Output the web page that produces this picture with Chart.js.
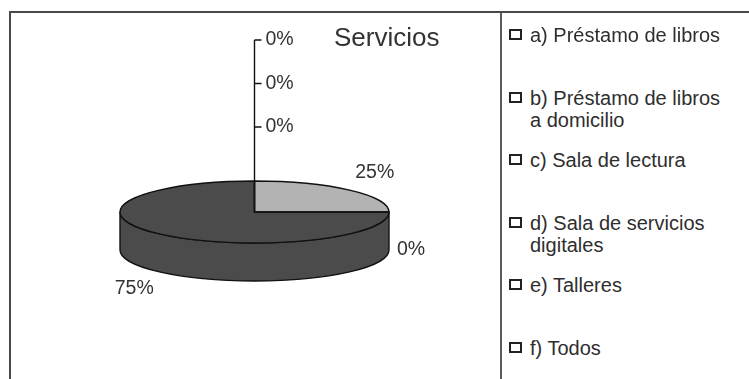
<!DOCTYPE html>
<html>
<head>
<meta charset="utf-8">
<script src="https://cdn.jsdelivr.net/npm/chart.js@4.4.1/dist/chart.umd.min.js"></script>
<style>
  html, body { margin: 0; padding: 0; background: #fff; }
  body { width: 749px; height: 379px; position: relative; overflow: hidden; font-family: "Liberation Sans", Arial, Helvetica, sans-serif; }
  #frameTop { position: absolute; left: 9px; top: 11px; width: 740px; height: 2px; background: #4a4a4a; }
  #frameLeft { position: absolute; left: 9px; top: 11px; width: 2px; height: 368px; background: #4a4a4a; }
  #divider { position: absolute; left: 500px; top: 13px; width: 2px; height: 366px; background: #5a5a5a; }
  #chartWrap { position: absolute; left: 0; top: 0; width: 500px; height: 379px; }
  #title { position: absolute; left: 334px; top: 22px; font-size: 26px; line-height: 30px; color: #333; white-space: nowrap; }
  #legend { position: absolute; left: 503px; top: 0; width: 246px; height: 379px; }
  .item { position: absolute; left: 6px; font-size: 20px; line-height: 22px; color: #2e2e2e; white-space: nowrap; }
  .box { position: absolute; left: 0; top: 5px; width: 9px; height: 7px; border: 2px solid #222; background: #fff; }
  .txt { position: absolute; left: 21px; top: 0; }
</style>
</head>
<body>
<div id="frameTop"></div>
<div id="frameLeft"></div>
<div id="divider"></div>
<div id="chartWrap"><canvas id="c" width="500" height="379"></canvas></div>
<div id="title"></div>
<div id="legend"></div>
<script>
// ---- data ----
const chartTitle = "Servicios";
const categories = [
  ["a) Préstamo de libros"],
  ["b) Préstamo de libros", "a domicilio"],
  ["c) Sala de lectura"],
  ["d) Sala de servicios", "digitales"],
  ["e) Talleres"],
  ["f) Todos"]
];
const values = [0, 0, 0, 25, 0, 75];
const sliceColors = ["#9a9a9a", "#6e6e6e", "#d0d0d0", "#b3b3b3", "#808080", "#4b4b4b"];

// ---- 3D look ----
const SQUASH = 31 / 134.5;
const DEPTH = 38;

const pie3d = {
  id: "pie3d",
  beforeDatasetsDraw(chart) {
    const ctx = chart.ctx;
    const arcs = chart.getDatasetMeta(0).data;
    const cx = arcs[0].x, cy = arcs[0].y, r = arcs[0].outerRadius, ry = r * SQUASH;
    arcs.forEach(arc => {
      const s = Math.max(arc.startAngle, 0), e = Math.min(arc.endAngle, Math.PI);
      if (e - s <= 1e-6) return;
      ctx.beginPath();
      ctx.ellipse(cx, cy, r, ry, 0, s, e, false);
      ctx.lineTo(cx + r * Math.cos(e), cy + ry * Math.sin(e) + DEPTH);
      ctx.ellipse(cx, cy + DEPTH, r, ry, 0, e, s, true);
      ctx.closePath();
      ctx.fillStyle = arc.options.backgroundColor;
      ctx.fill();
      ctx.lineWidth = 1.4;
      ctx.strokeStyle = "#111";
      ctx.stroke();
    });
    ctx.save();
    ctx.translate(cx, cy);
    ctx.scale(1, SQUASH);
    ctx.translate(-cx, -cy);
  },
  afterDatasetsDraw(chart) {
    const ctx = chart.ctx;
    ctx.restore();
    const arcs = chart.getDatasetMeta(0).data;
    const data = chart.data.datasets[0].data;
    const total = data.reduce((a, b) => a + b, 0);
    const cx = arcs[0].x, cy = arcs[0].y, r = arcs[0].outerRadius, ry = r * SQUASH;
    // outlines of the top face
    ctx.lineWidth = 1.4;
    ctx.strokeStyle = "#111";
    arcs.forEach(arc => {
      if (arc.endAngle - arc.startAngle <= 1e-6) return;
      ctx.beginPath();
      ctx.moveTo(cx, cy);
      ctx.ellipse(cx, cy, r, ry, 0, arc.startAngle, arc.endAngle, false);
      ctx.closePath();
      ctx.stroke();
    });
    // labels
    ctx.font = '19.5px "Liberation Sans", Arial, sans-serif';
    ctx.fillStyle = "#333";
    ctx.textBaseline = "middle";
    const topZero = [];
    arcs.forEach((arc, i) => {
      const mid = (arc.startAngle + arc.endAngle) / 2;
      const txt = Math.round(data[i] / total * 100) + "%";
      if (data[i] === 0 && Math.abs(mid + Math.PI / 2) < 0.01) { topZero.push(txt); return; }
      const c = Math.cos(mid), s = Math.sin(mid);
      const x = cx + (r + 8) * c;
      const y = cy + (ry + 24) * s + (s >= -1e-6 ? DEPTH : 0);
      ctx.textAlign = c > 0.3 ? "left" : (c < -0.3 ? "right" : "center");
      ctx.fillText(txt, x, y);
    });
    if (topZero.length) {
      const n = topZero.length;
      const ys = topZero.map((t, j) => cy - ry - 54 - (n - 1 - j) * 43.5);
      ctx.beginPath();
      ctx.moveTo(cx, cy);
      ctx.lineTo(cx, ys[0]);
      ys.forEach(y => { ctx.moveTo(cx, y); ctx.lineTo(cx + 7, y); });
      ctx.lineWidth = 1.4;
      ctx.strokeStyle = "#111";
      ctx.stroke();
      ctx.textAlign = "left";
      topZero.forEach((t, j) => ctx.fillText(t, cx + 11, ys[j]));
    }
  }
};

const chart = new Chart(document.getElementById("c"), {
  type: "pie",
  data: {
    labels: categories,
    datasets: [{ data: values, backgroundColor: sliceColors, borderWidth: 0, hoverOffset: 0, offset: 0 }]
  },
  options: {
    responsive: false,
    devicePixelRatio: 1,
    animation: false,
    events: [],
    layout: { padding: { left: 120, right: 111, top: 77.5, bottom: 32.5 } },
    plugins: { legend: { display: false }, tooltip: { enabled: false }, title: { display: false } }
  },
  plugins: [pie3d]
});

// title and legend as text
document.getElementById("title").textContent = chartTitle;
const legend = document.getElementById("legend");
categories.forEach((lines, i) => {
  const item = document.createElement("div");
  item.className = "item";
  item.style.top = (24 + 62.6 * i) + "px";
  const box = document.createElement("div");
  box.className = "box";
  const txt = document.createElement("div");
  txt.className = "txt";
  txt.innerHTML = lines.map(l => l.replace(/&/g, "&amp;").replace(/</g, "&lt;")).join("<br>");
  item.appendChild(box);
  item.appendChild(txt);
  legend.appendChild(item);
});
</script>
</body>
</html>
